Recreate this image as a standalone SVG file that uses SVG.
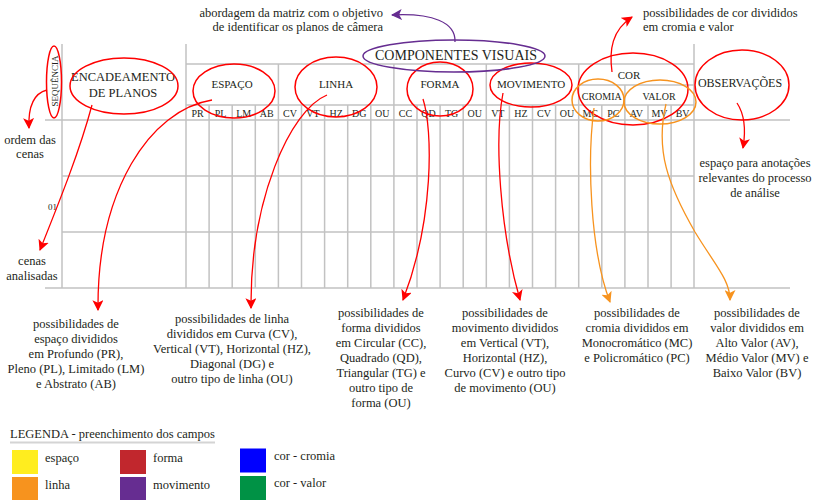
<svg xmlns="http://www.w3.org/2000/svg" width="815" height="500" viewBox="0 0 815 500">
<style>
text{font-family:"Liberation Serif","Times New Roman",serif;fill:#231f20}
.g{stroke:#c2c2c2;stroke-width:1.5;fill:none}
.sub{font-size:10px;text-anchor:middle}
.hd{font-size:11px;text-anchor:middle}
.big{font-size:12.5px;text-anchor:middle}
.t{font-size:12.5px}
.c{text-anchor:middle}
.re{fill:none;stroke:#f00;stroke-width:1.5}
.oe{fill:none;stroke:#f7931e;stroke-width:1.5}
.pe{fill:none;stroke:#662d91;stroke-width:1.5}
.ra{fill:none;stroke:#f00;stroke-width:1.3;marker-end:url(#mr)}
.oa{fill:none;stroke:#f7931e;stroke-width:1.3;marker-end:url(#mo)}
.pa{fill:none;stroke:#662d91;stroke-width:1.3;marker-end:url(#mp)}
.lg{font-size:12.5px}
</style>
<defs>
<marker id="mr" viewBox="0 0 10 10" refX="9" refY="5" markerWidth="11" markerHeight="11" markerUnits="userSpaceOnUse" orient="auto"><path d="M0,0 L10,5 L0,10 L2.5,5 z" fill="#f00"/></marker>
<marker id="mo" viewBox="0 0 10 10" refX="9" refY="5" markerWidth="11" markerHeight="11" markerUnits="userSpaceOnUse" orient="auto"><path d="M0,0 L10,5 L0,10 L2.5,5 z" fill="#f7931e"/></marker>
<marker id="mp" viewBox="0 0 10 10" refX="9" refY="5" markerWidth="11" markerHeight="11" markerUnits="userSpaceOnUse" orient="auto"><path d="M0,0 L10,5 L0,10 L2.5,5 z" fill="#662d91"/></marker>
</defs>

<g id="grid">
<path class="g" d="M62,44V288 M186,44V288 M694,44V288 M186,64H694 M578.7,85H694 M186,105H694 M45,120H790 M62,176H694 M62,232H694 M45,288H790"/>
<path class="g" d="M278.4,64V288 M393.9,64V288 M486.3,64V288 M578.7,64V288 M624.9,85V288"/>
<path class="g" d="M209.1,105V288 M232.2,105V288 M255.3,105V288 M301.5,105V288 M324.6,105V288 M347.7,105V288 M370.8,105V288 M417,105V288 M440.1,105V288 M463.2,105V288 M509.4,105V288 M532.5,105V288 M555.6,105V288 M601.8,105V288 M648,105V288 M671.1,105V288"/>
</g>

<g id="subheaders">
<text class="sub" x="197.5" y="117">PR</text>
<text class="sub" x="220.6" y="117">PL</text>
<text class="sub" x="243.7" y="117">LM</text>
<text class="sub" x="266.8" y="117">AB</text>
<text class="sub" x="290" y="117">CV</text>
<text class="sub" x="313" y="117">VT</text>
<text class="sub" x="336.1" y="117">HZ</text>
<text class="sub" x="359.2" y="117">DG</text>
<text class="sub" x="382.3" y="117">OU</text>
<text class="sub" x="405.4" y="117">CC</text>
<text class="sub" x="428.5" y="117">QD</text>
<text class="sub" x="451.6" y="117">TG</text>
<text class="sub" x="474.7" y="117">OU</text>
<text class="sub" x="497.8" y="117">VT</text>
<text class="sub" x="520.9" y="117">HZ</text>
<text class="sub" x="544" y="117">CV</text>
<text class="sub" x="567.1" y="117">OU</text>
<text class="sub" x="590.2" y="117">MC</text>
<text class="sub" x="613.3" y="117">PC</text>
<text class="sub" x="636.4" y="117">AV</text>
<text class="sub" x="659.5" y="117">MV</text>
<text class="sub" x="682.6" y="117">BV</text>
<text x="57" y="210" style="font-size:9px;text-anchor:end">01</text>
</g>

<g id="sequencia">
<text x="58" y="81" transform="rotate(-90 58 81)" style="font-size:9px;text-anchor:middle">SEQUÊNCIA</text>
<ellipse class="re" cx="54" cy="82" rx="7.5" ry="36"/>
</g>
<g id="encadeamento">
<text class="big" x="123" y="81">ENCADEAMENTO</text>
<text class="big" x="123" y="97">DE PLANOS</text>
<ellipse class="re" cx="124" cy="86" rx="54" ry="28"/>
</g>
<g id="espaco">
<text class="hd" x="232" y="88">ESPAÇO</text>
<ellipse class="re" cx="234" cy="91" rx="41" ry="27"/>
</g>
<g id="linha">
<text class="hd" x="336" y="88">LINHA</text>
<ellipse class="re" cx="336" cy="87" rx="41" ry="30"/>
</g>
<g id="forma">
<text class="hd" x="440" y="88">FORMA</text>
<ellipse class="re" cx="440" cy="89" rx="33" ry="27"/>
</g>
<g id="movimento">
<text class="hd" x="531" y="88">MOVIMENTO</text>
<ellipse class="re" cx="531" cy="85" rx="41" ry="22"/>
</g>
<g id="cor">
<text class="hd" x="629" y="79">COR</text>
<ellipse class="re" cx="633" cy="89" rx="55" ry="36"/>
</g>
<g id="cromia">
<text class="sub" x="601.8" y="100">CROMIA</text>
<ellipse class="oe" cx="598" cy="100" rx="26" ry="21"/>
</g>
<g id="valor">
<text class="sub" x="659" y="100">VALOR</text>
<ellipse class="oe" cx="660" cy="102" rx="36" ry="22"/>
</g>
<g id="observacoes">
<text x="740" y="87" style="font-size:12px;text-anchor:middle">OBSERVAÇÕES</text>
<ellipse class="re" cx="742" cy="85" rx="47" ry="35"/>
</g>
<g id="componentes">
<text x="456" y="60" style="font-size:14px;text-anchor:middle">COMPONENTES VISUAIS</text>
<ellipse class="pe" cx="454" cy="56" rx="91" ry="16"/>
</g>

<g id="connectors">
<path class="pa" d="M455,42 C456,22 432,13 392,15"/>
<path class="ra" d="M612,72 C609,50 612,30 632,17"/>
<path class="ra" d="M47,90 C35,93 28,105 29,128"/>
<path class="ra" d="M92,105 C80,150 60,200 40,250"/>
<path class="ra" d="M212,100 C150,110 97,190 98,310"/>
<path class="ra" d="M327,95 C290,110 250,200 251,308"/>
<path class="ra" d="M423,99 C433,130 434,220 403,300"/>
<path class="ra" d="M503,93 C494,140 500,230 520,300"/>
<path class="oa" d="M594,108 C587,160 590,250 610,302"/>
<path class="oa" d="M666,104 C655,150 668,185 695,232 C715,265 730,280 730,300"/>
<path class="ra" d="M737,103 C745,115 746,130 743,148"/>
</g>

<g id="notes">
<text class="t" x="383" y="17" text-anchor="end">abordagem da matriz com o objetivo</text>
<text class="t" x="383" y="31" text-anchor="end">de identificar os planos de câmera</text>
<text class="t" x="643" y="17">possibilidades de cor divididos</text>
<text class="t" x="643" y="31">em cromia e valor</text>
<text class="t c" x="30" y="144">ordem das</text>
<text class="t c" x="30" y="158">cenas</text>
<text class="t c" x="32" y="265">cenas</text>
<text class="t c" x="32" y="280">analisadas</text>
<text class="t c" x="755" y="167">espaço para anotações</text>
<text class="t c" x="755" y="182">relevantes do processo</text>
<text class="t c" x="755" y="197">de análise</text>

<text class="t c" x="76" y="328">possibilidades de</text>
<text class="t c" x="76" y="343">espaço divididos</text>
<text class="t c" x="76" y="358">em Profundo (PR),</text>
<text class="t c" x="76" y="373">Pleno (PL), Limitado (LM)</text>
<text class="t c" x="76" y="388">e Abstrato (AB)</text>

<text class="t c" x="232" y="323">possibilidades de linha</text>
<text class="t c" x="232" y="338">divididos em Curva (CV),</text>
<text class="t c" x="232" y="353">Vertical (VT), Horizontal (HZ),</text>
<text class="t c" x="232" y="368">Diagonal (DG) e</text>
<text class="t c" x="232" y="383">outro tipo de linha (OU)</text>

<text class="t c" x="381" y="317">possibilidades de</text>
<text class="t c" x="381" y="332">forma divididos</text>
<text class="t c" x="381" y="347">em Circular (CC),</text>
<text class="t c" x="381" y="362">Quadrado (QD),</text>
<text class="t c" x="381" y="377">Triangular (TG) e</text>
<text class="t c" x="381" y="392">outro tipo de</text>
<text class="t c" x="381" y="407">forma (OU)</text>

<text class="t c" x="505" y="317">possibilidades de</text>
<text class="t c" x="505" y="332">movimento divididos</text>
<text class="t c" x="505" y="347">em Vertical (VT),</text>
<text class="t c" x="505" y="362">Horizontal (HZ),</text>
<text class="t c" x="505" y="377">Curvo (CV) e outro tipo</text>
<text class="t c" x="505" y="392">de movimento (OU)</text>

<text class="t c" x="637" y="317">possibilidades de</text>
<text class="t c" x="637" y="332">cromia divididos em</text>
<text class="t c" x="637" y="347">Monocromático (MC)</text>
<text class="t c" x="637" y="362">e Policromático (PC)</text>

<text class="t c" x="757" y="317">possibilidades de</text>
<text class="t c" x="757" y="332">valor divididos em</text>
<text class="t c" x="757" y="347">Alto Valor (AV),</text>
<text class="t c" x="757" y="362">Médio Valor (MV) e</text>
<text class="t c" x="757" y="377">Baixo Valor (BV)</text>
</g>

<g id="legend">
<text class="lg" x="10" y="438">LEGENDA - preenchimento dos campos</text>
<rect x="10" y="441.5" width="205" height="2" fill="#d4d4d4"/>
<rect x="12" y="450" width="26" height="24" fill="#ffed1f"/>
<text class="lg" x="45" y="462">espaço</text>
<rect x="12" y="477" width="26" height="24" fill="#f7931e"/>
<text class="lg" x="45" y="489">linha</text>
<rect x="120" y="450" width="26" height="24" fill="#c1272d"/>
<text class="lg" x="153" y="462">forma</text>
<rect x="120" y="477" width="26" height="24" fill="#662d91"/>
<text class="lg" x="153" y="489">movimento</text>
<rect x="240" y="448.5" width="26" height="24" fill="#0000ff"/>
<text class="lg" x="274" y="460">cor - cromia</text>
<rect x="240" y="476" width="26" height="24" fill="#009245"/>
<text class="lg" x="274" y="487">cor - valor</text>
</g>
</svg>
